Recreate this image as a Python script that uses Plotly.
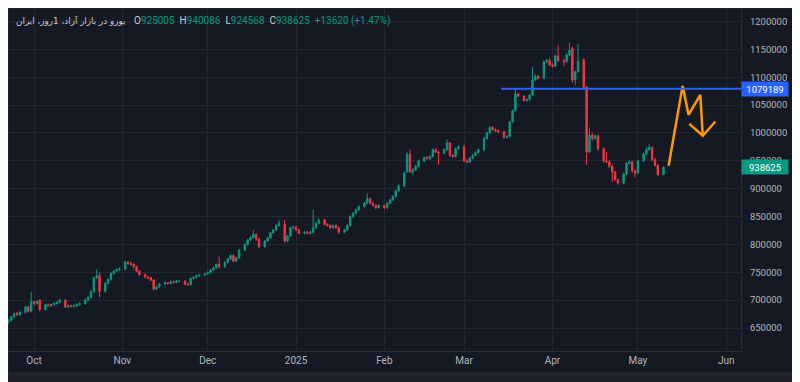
import pandas as pd
import plotly.graph_objects as go

# ---------------- data (prices in thousands) ----------------
OPEN_K = [
    660, 664, 670, 676, 674, 678,
    688, 680, 697, 694, 700, 683,
    692, 690, 692, 694, 696, 700,
    688, 690, 689, 690, 692, 694,
    700, 705, 715, 740, 744, 716,
    730, 737, 748, 752, 755, 756,
    768, 766, 764, 760, 752, 746,
    742, 740, 736, 720, 724, 729,
    731, 730, 733, 732, 734, 734,
    729, 728, 739, 741, 744, 745,
    747, 750, 754, 758, 764, 760,
    768, 774, 780, 770, 776, 790,
    800, 808, 812, 818, 810, 796,
    806, 812, 821, 826, 834, 836,
    806, 815, 830, 831, 826, 820,
    822, 820, 822, 830, 838, 844,
    836, 834, 830, 834, 830, 822,
    826, 834, 850, 856, 862, 868,
    874, 882, 874, 870, 866, 870,
    866, 874, 880, 886, 896, 905,
    930, 962, 930, 934, 940, 950,
    956, 954, 958, 970, 966, 964,
    970, 982, 960, 958, 972, 975,
    950, 948, 955, 960, 965, 970,
    990, 1000, 1010, 1006, 1004, 1002,
    992, 994, 1020, 1040, 1070, 1066,
    1058, 1060, 1068, 1095, 1102, 1098,
    1128, 1130, 1122, 1120, 1138, 1130,
    1128, 1140, 1152, 1095, 1110, 1131,
    1082, 966, 996, 990, 995, 972,
    950, 948, 940, 930, 916, 910,
    926, 945, 948, 932, 928, 950,
    962, 970, 974, 952, 942, 925.005,
]
HIGH_K = [
    666, 672, 678, 679, 680, 690,
    690, 715, 699, 700, 702, 694,
    694, 694, 696, 698, 702, 702,
    692, 692, 692, 694, 696, 703,
    707, 718, 742, 755, 750, 732,
    739, 750, 754, 757, 759, 771,
    770, 769, 766, 762, 754, 748,
    744, 742, 738, 726, 731, 733,
    733, 735, 735, 736, 736, 736,
    731, 741, 743, 746, 747, 749,
    752, 756, 760, 766, 778, 770,
    776, 782, 782, 778, 792, 803,
    810, 815, 826, 820, 812, 808,
    814, 823, 828, 836, 844, 844,
    817, 832, 834, 834, 828, 824,
    824, 824, 862, 840, 846, 846,
    838, 836, 836, 836, 832, 828,
    836, 852, 858, 864, 870, 876,
    892, 884, 876, 872, 872, 872,
    876, 882, 888, 898, 908, 931,
    965, 970, 937, 943, 952, 958,
    959, 960, 972, 973, 968, 972,
    988, 984, 962, 974, 978, 979,
    953, 957, 962, 967, 972, 993,
    1002, 1012, 1012, 1008, 1006, 1004,
    996, 1022, 1042, 1079, 1072, 1068,
    1062, 1070, 1118, 1105, 1104, 1130,
    1133, 1134, 1125, 1141, 1158, 1133,
    1143, 1162, 1155, 1112, 1160, 1134,
    1084, 1010, 1000, 997, 997, 974,
    966, 951, 943, 932, 918, 929,
    948, 951, 950, 935, 952, 965,
    975, 980, 976, 955, 944, 940.086,
]
LOW_K = [
    658, 662, 668, 672, 672, 676,
    678, 678, 690, 692, 680, 681,
    688, 688, 690, 692, 694, 686,
    686, 687, 687, 688, 690, 692,
    698, 703, 713, 738, 705, 714,
    728, 735, 746, 750, 752, 754,
    764, 762, 757, 750, 744, 739,
    738, 734, 718, 718, 722, 727,
    728, 728, 730, 730, 732, 727,
    726, 726, 737, 739, 742, 743,
    745, 748, 752, 756, 757, 758,
    766, 772, 768, 768, 774, 788,
    798, 806, 810, 806, 793, 794,
    804, 810, 819, 824, 832, 803,
    804, 813, 828, 824, 818, 818,
    818, 818, 820, 828, 836, 834,
    832, 828, 828, 828, 819, 820,
    824, 832, 848, 854, 860, 866,
    872, 872, 868, 863, 864, 863,
    864, 872, 878, 884, 894, 903,
    928, 928, 925, 932, 938, 948,
    952, 952, 956, 964, 943, 962,
    968, 957, 955, 956, 970, 948,
    946, 946, 953, 958, 963, 968,
    988, 998, 1004, 1002, 1000, 990,
    990, 992, 1018, 1038, 1064, 1056,
    1056, 1058, 1066, 1093, 1096, 1096,
    1126, 1120, 1117, 1118, 1127, 1120,
    1126, 1138, 1090, 1085, 1108, 1078,
    943, 964, 986, 988, 968, 947,
    946, 937, 912, 914, 907, 908,
    924, 943, 929, 920, 926, 948,
    960, 968, 950, 940, 922, 924.568,
]
CLOSE_K = [
    664, 670, 676, 674, 678, 688,
    680, 697, 694, 698, 683, 692,
    690, 692, 694, 696, 700, 688,
    690, 689, 690, 692, 694, 700,
    705, 715, 740, 744, 716, 730,
    737, 748, 752, 755, 756, 768,
    766, 764, 760, 752, 746, 742,
    740, 736, 720, 724, 729, 731,
    730, 733, 732, 734, 734, 729,
    728, 739, 741, 744, 745, 747,
    750, 754, 758, 764, 760, 768,
    774, 780, 770, 776, 790, 800,
    808, 812, 818, 810, 796, 806,
    812, 821, 826, 834, 838, 806,
    815, 830, 831, 826, 820, 822,
    820, 822, 830, 838, 844, 836,
    834, 830, 834, 830, 822, 826,
    834, 850, 856, 862, 868, 874,
    882, 874, 870, 866, 870, 866,
    874, 880, 886, 896, 905, 928,
    962, 930, 934, 940, 950, 956,
    954, 958, 970, 966, 964, 970,
    982, 960, 958, 972, 975, 950,
    948, 955, 960, 965, 970, 990,
    1000, 1010, 1006, 1004, 1002, 992,
    994, 1020, 1040, 1070, 1066, 1058,
    1060, 1068, 1095, 1102, 1098, 1128,
    1130, 1122, 1120, 1138, 1130, 1128,
    1140, 1148, 1095, 1110, 1128, 1082,
    966, 996, 990, 995, 972, 950,
    948, 940, 930, 916, 910, 926,
    945, 948, 932, 928, 950, 962,
    970, 974, 952, 942, 925, 938.625,
]

LEVEL_PRICE = 1079189
LEVEL_START = "2025-03-14"
LAST_PRICE = 938625

ZZ_DATES = ["2025-05-11 19:00", "2025-05-16 17:00", "2025-05-18 19:00",
            "2025-05-22 22:00", "2025-05-23 19:00"]
ZZ_PRICES = [941200, 1084500, 1032500, 1068400, 994900]
ARROW_DATES = ["2025-05-19 02:00", "2025-05-23 19:00", "2025-05-28 05:00"]
ARROW_PRICES = [1016400, 994900, 1020500]

MONTH_TICKS = ["2024-10-01", "2024-11-01", "2024-12-01", "2025-01-01", "2025-02-01",
               "2025-03-01", "2025-04-01", "2025-05-01", "2025-06-01"]
MONTH_LABELS = ["Oct", "Nov", "Dec", "2025", "Feb", "Mar", "Apr", "May", "Jun"]
PRICE_TICKS = list(range(650000, 1200001, 50000))

TITLE = "یورو در بازار آزاد، 1روز، ایران"

# ---------------- build ----------------
all_days = pd.date_range("2024-09-22", "2025-05-10", freq="D")
dates = all_days[all_days.weekday != 4]
assert len(dates) == len(CLOSE_K) == len(OPEN_K) == len(HIGH_K) == len(LOW_K)

k = 1000
o = [v * k for v in OPEN_K]
h = [v * k for v in HIGH_K]
l = [v * k for v in LOW_K]
c = [v * k for v in CLOSE_K]

UP = "#089981"
DOWN = "#f23645"
BG = "#151924"
FRAME = "#1f222c"
GRID = "#232733"
TXT = "#b2b5be"

PW, PH = 733, 343  # plot area size in px
OFF = 8            # page offset of the figure


def px_x(page_x):
    return (page_x - OFF) / PW


def px_y(page_y):
    return (OFF + PH - page_y) / PH


fig = go.Figure()
fig.add_trace(go.Candlestick(
    x=dates, open=o, high=h, low=l, close=c,
    increasing=dict(line=dict(color=UP, width=1), fillcolor=UP),
    decreasing=dict(line=dict(color=DOWN, width=1), fillcolor=DOWN),
    whiskerwidth=0, showlegend=False, hoverinfo="skip",
))

fig.add_trace(go.Scatter(x=ZZ_DATES, y=ZZ_PRICES, mode="lines",
                         line=dict(color="#ff9800", width=2.5),
                         showlegend=False, hoverinfo="skip"))
fig.add_trace(go.Scatter(x=ARROW_DATES, y=ARROW_PRICES, mode="lines",
                         line=dict(color="#ff9800", width=2.5),
                         showlegend=False, hoverinfo="skip"))

# last price dotted line
fig.add_shape(type="line", xref="paper", yref="y", x0=0, x1=1,
              y0=LAST_PRICE, y1=LAST_PRICE,
              line=dict(color=UP, width=1, dash="dot"), layer="below")
# horizontal level
fig.add_shape(type="line", xref="x", yref="y", x0=LEVEL_START, x1="2025-06-06 05:00",
              y0=LEVEL_PRICE, y1=LEVEL_PRICE,
              line=dict(color="#2962ff", width=2))

# dark panel behind axes
fig.add_shape(type="rect", xref="paper", yref="paper", x0=0, x1=1 + 52 / PW,
              y0=-22 / PH, y1=1, fillcolor=BG, line=dict(color="#2a2e39", width=1),
              layer="below")

# price labels on right axis
for price, col in [(LEVEL_PRICE, "#2962ff"), (LAST_PRICE, UP)]:
    fig.add_annotation(xref="paper", yref="y", x=1, y=price, xanchor="left",
                       yanchor="middle", text=f"{price}", showarrow=False,
                       font=dict(color="white", size=9.5, family="Roboto"),
                       bgcolor=col, width=44, height=12, borderpad=1, align="center")

# header legend
fig.add_annotation(xref="paper", yref="paper", x=px_x(14), y=px_y(21),
                   xanchor="left", yanchor="middle", text=TITLE, showarrow=False,
                   font=dict(color="#c9ccd4", size=8.8, family="DejaVu Sans"))
g = f"<span style='color:{UP}'>"
nb = "\u00a0\u00a0"
legend_txt = (f"O{g}925005</span>{nb}H{g}940086</span>{nb}L{g}924568</span>{nb}"
              f"C{g}938625</span>{nb}{g}+13620 (+1.47%)</span>")
fig.add_annotation(xref="paper", yref="paper", x=px_x(132), y=px_y(21),
                   xanchor="left", yanchor="middle", text=legend_txt, showarrow=False,
                   font=dict(color="#c9ccd4", size=10, family="Roboto"))

# the page body adds an 8px offset, so the figure is 792x374 with zero left/top margin
fig.update_layout(
    width=792, height=374,
    margin=dict(l=0, r=792 - PW, t=0, b=374 - PH, autoexpand=False),
    paper_bgcolor=FRAME, plot_bgcolor=BG,
    showlegend=False,
    xaxis=dict(
        type="date",
        range=["2024-09-21 20:40", "2025-06-06 05:00"],
        tickvals=MONTH_TICKS, ticktext=MONTH_LABELS,
        showgrid=True, gridcolor=GRID, gridwidth=1,
        zeroline=False, showline=True, linecolor="#2a2e39",
        tickfont=dict(color=TXT, size=10, family="Roboto"),
        ticks="", rangeslider=dict(visible=False),
        fixedrange=True,
    ),
    yaxis=dict(
        side="right",
        range=[608800, 1224200],
        tickvals=PRICE_TICKS, ticktext=[str(v) for v in PRICE_TICKS],
        showgrid=True, gridcolor=GRID, gridwidth=1,
        zeroline=False, showline=True, linecolor="#2a2e39",
        tickfont=dict(color=TXT, size=9.5, family="Roboto"),
        ticks="", ticklabelstandoff=6,
        fixedrange=True,
    ),
)

fig.write_html("out.html")
